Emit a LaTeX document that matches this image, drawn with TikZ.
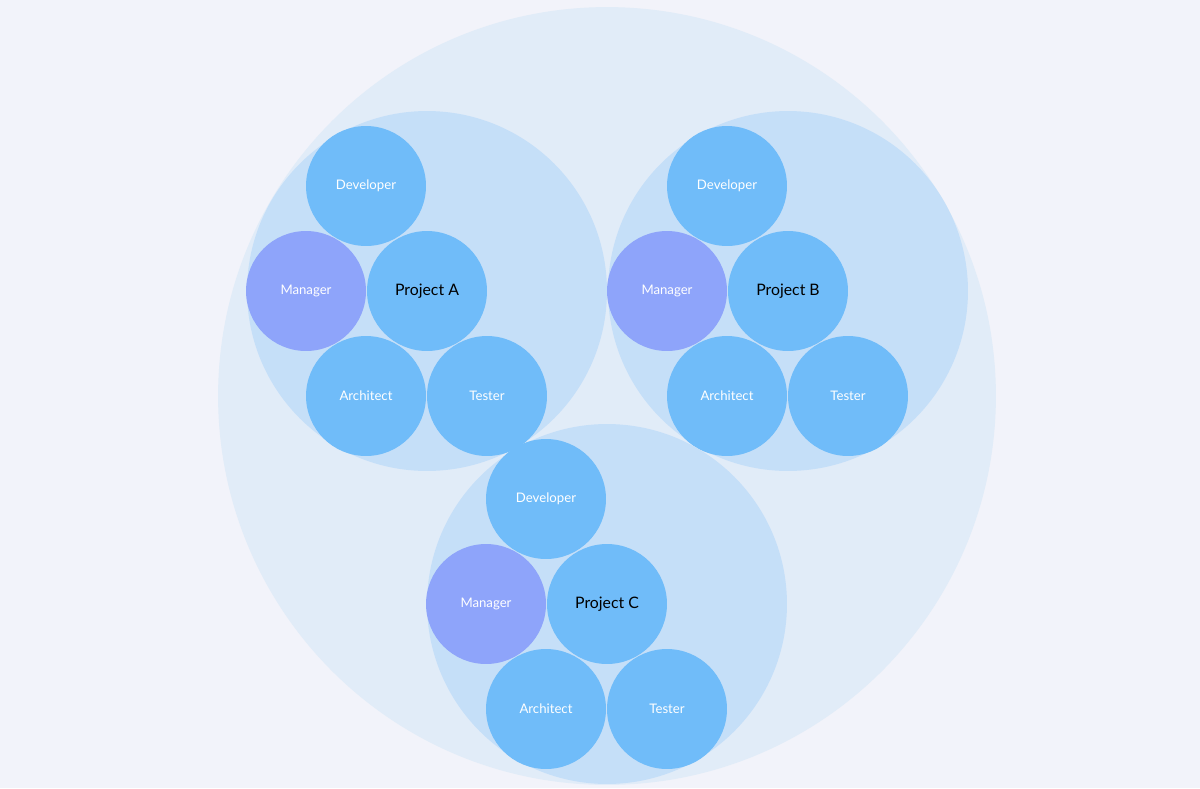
\documentclass[tikz,border=0pt]{standalone}
\usepackage{fontspec}
\setmainfont{Lato}
\definecolor{bgcol}{HTML}{F2F3FA}
\definecolor{outercol}{HTML}{E1ECF8}
\definecolor{projcol}{HTML}{C5DFF8}
\definecolor{rolecol}{HTML}{70BCF9}
\definecolor{mgrcol}{HTML}{8EA4FA}
\begin{document}
\begin{tikzpicture}[x=0.02cm, y=-0.02cm,
    role node/.style={circle, fill=rolecol, minimum size=2.4cm, inner sep=0pt, text=white, font=\fontsize{7.5}{9}\selectfont},
    mgr node/.style={role node, fill=mgrcol},
    proj node/.style={role node, text=black, font=\fontsize{9}{11}\selectfont}]

    \fill[bgcol] (0,0) rectangle (1200,788);
    \useasboundingbox (0,0) rectangle (1200,788);
    \fill[outercol] (607,396) circle (7.78cm);

    \foreach \p/\x/\y in {A/427/291, B/788/291, C/607/604} {
        \fill[projcol] (\x,\y) circle (3.6cm);
        \node[proj node] at (\x,\y) (proj\p) {Project \p};
        \node[role node] at (\x-61,\y-105) (dev\p) {Developer};
        \node[mgr node] at (\x-121,\y) (mgr\p) {Manager};
        \node[role node] at (\x-61,\y+105) (arch\p) {Architect};
        \node[role node] at (\x+60,\y+105) (test\p) {Tester};
    }
\end{tikzpicture}
\end{document}
